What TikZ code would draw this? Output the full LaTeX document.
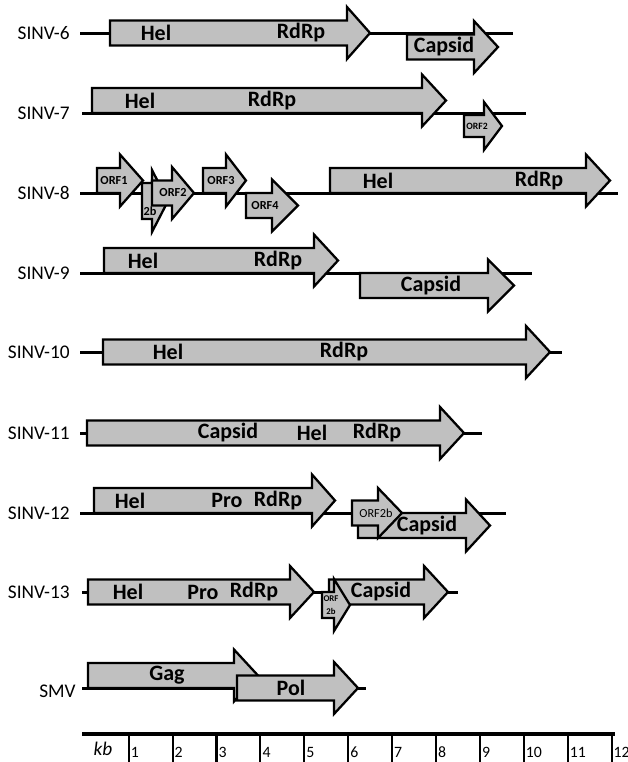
\documentclass[tikz,border=0pt]{standalone}
\usepackage{fontspec}
\setmainfont{Carlito}
\usepackage{xcolor}
\usepackage{tikz}
\definecolor{genegray}{HTML}{C0C0C0}

\tikzset{
  genome/.style={line width=1.7pt},
  gene/.style={draw=black,line width=1.3pt,fill=genegray,line join=miter},
  lbl/.style={font=\fontsize{11}{13}\selectfont,anchor=east,inner sep=0pt},
  prot/.style={font=\bfseries\fontsize{12.5}{14}\selectfont,inner sep=0pt},
  orflbl/.style={font=\bfseries\fontsize{7}{8}\selectfont,inner sep=0pt},
  kbtick/.style={line width=1.2pt},
  kbaxis/.style={line width=2pt}
}

% start, head base, tip, centre y, half body, half head
\newcommand{\orfarrow}[6]{%
  \draw[gene] (#1,{#4-#5}) -- (#2,{#4-#5}) -- (#2,{#4-#6}) -- (#3,#4)
    -- (#2,{#4+#6}) -- (#2,{#4+#5}) -- (#1,{#4+#5}) -- cycle;}
\newcommand{\genearrow}[4]{\orfarrow{#1}{#2}{#3}{#4}{12.5}{26}}

\begin{document}
\begin{tikzpicture}[x=0.02cm,y=-0.02cm]
  \useasboundingbox (0,0) rectangle (628,762);
  % SINV-6
  \node[lbl] (n6) at (70,33) {SINV-6};
  \draw[genome] (80,33) -- (513,33);
  \genearrow{110}{347}{370}{33}
  \genearrow{407}{474}{498}{47}
  \node[prot] (hel6) at (156,33) {Hel};
  \node[prot] (rdrp6) at (301,33) {RdRp};
  \node[prot] (cap6) at (444,47) {Capsid};
  % SINV-7
  \node[lbl] (n7) at (70,113) {SINV-7};
  \draw[genome] (82,113) -- (526,113);
  \genearrow{92}{422}{446}{100.5}
  \orfarrow{464}{484}{502}{126}{11}{24}
  \node[prot] (hel7) at (140,100.5) {Hel};
  \node[prot] (rdrp7) at (272,100.5) {RdRp};
  \node[orflbl,font=\bfseries\fontsize{5.5}{6}\selectfont] (orf7) at (477,126) {ORF2};
  % SINV-8
  \node[lbl] (n8) at (70,193) {SINV-8};
  \draw[genome] (80,193) -- (618,193);
  \genearrow{97}{120}{143}{180.5}
  \orfarrow{142}{152}{168}{201}{18}{31}
  \genearrow{152}{172}{194}{193}
  \genearrow{203}{226}{246}{180.5}
  \genearrow{246}{272}{298}{205.5}
  \genearrow{330}{586}{610}{180.5}
  \node[orflbl] (orf1) at (114,180.5) {ORF1};
  \node[orflbl] (orf2b8) at (150,211) {2b};
  \node[orflbl] (orf2) at (173,193) {ORF2};
  \node[orflbl] (orf3) at (221,180.5) {ORF3};
  \node[orflbl] (orf4) at (265,205.5) {ORF4};
  \node[prot] (hel8) at (378,180.5) {Hel};
  \node[prot] (rdrp8) at (539,180.5) {RdRp};
  % SINV-9
  \node[lbl] (n9) at (70,273) {SINV-9};
  \draw[genome] (80,273) -- (532,273);
  \genearrow{104}{314}{338}{260.5}
  \genearrow{360}{488}{514}{285.5}
  \node[prot] (hel9) at (143,260.5) {Hel};
  \node[prot] (rdrp9) at (278,260.5) {RdRp};
  \node[prot] (cap9) at (431,285.5) {Capsid};
  % SINV-10
  \node[lbl] (n10) at (70,352) {SINV-10};
  \draw[genome] (80,352) -- (562,352);
  \genearrow{103}{526}{550}{352}
  \node[prot] (hel10) at (168,352) {Hel};
  \node[prot] (rdrp10) at (344,352) {RdRp};
  % SINV-11
  \node[lbl] (n11) at (70,433) {SINV-11};
  \draw[genome] (80,433) -- (482,433);
  \genearrow{87}{440}{464}{433}
  \node[prot] (cap11) at (228,433) {Capsid};
  \node[prot] (hel11) at (312,433) {Hel};
  \node[prot] (rdrp11) at (377,433) {RdRp};
  % SINV-12
  \node[lbl] (n12) at (70,513) {SINV-12};
  \draw[genome] (80,513) -- (506,513);
  \genearrow{94}{312}{335}{500.5}
  \genearrow{358}{466}{490}{525.5}
  \orfarrow{352}{378}{402}{513}{12.5}{25}
  \node[prot] (hel12) at (130,500.5) {Hel};
  \node[prot] (pro12) at (227,500.5) {Pro};
  \node[prot] (rdrp12) at (278,500.5) {RdRp};
  \node[orflbl,font=\fontsize{7}{8}\selectfont] (orf12) at (376,513) {ORF2b};
  \node[prot] (cap12) at (427,525.5) {Capsid};
  % SINV-13
  \node[lbl] (n13) at (70,592) {SINV-13};
  \draw[genome] (82,592) -- (458,592);
  \genearrow{88}{290}{314}{592}
  \genearrow{329}{424}{448}{592}
  \orfarrow{322}{334}{350}{605}{13}{26}
  \node[prot] (hel13) at (128,592) {Hel};
  \node[prot] (pro13) at (203,592) {Pro};
  \node[prot] (rdrp13) at (254,592) {RdRp};
  \node[orflbl,font=\bfseries\fontsize{5}{7}\selectfont,align=center] (orf13) at (331,605) {ORF\\2b};
  \node[prot] (cap13) at (381,592) {Capsid};
  % SMV
  \node[lbl] (nsmv) at (76,691) {SMV};
  \draw[genome] (82,688) -- (366,688);
  \genearrow{88}{234}{258}{675.5}
  \genearrow{237}{334}{358}{688}
  \node[prot] (gag) at (167,675.5) {Gag};
  \node[prot] (pol) at (291,688) {Pol};
  % scale bar
  \draw[kbaxis] (82,734) -- (615,734);
  \node[font=\itshape\fontsize{11}{13}\selectfont] (kb) at (103,749) {kb};
  \foreach \k in {1,...,12} {
    \draw[kbtick] ({128.7+(\k-1)*43.9},734) -- ++(0,28);
    \node[anchor=west,inner sep=1pt,font=\fontsize{9}{10}\selectfont] (t\k) at ({128.7+(\k-1)*43.9},752) {\k};
  }
\end{tikzpicture}
\end{document}
